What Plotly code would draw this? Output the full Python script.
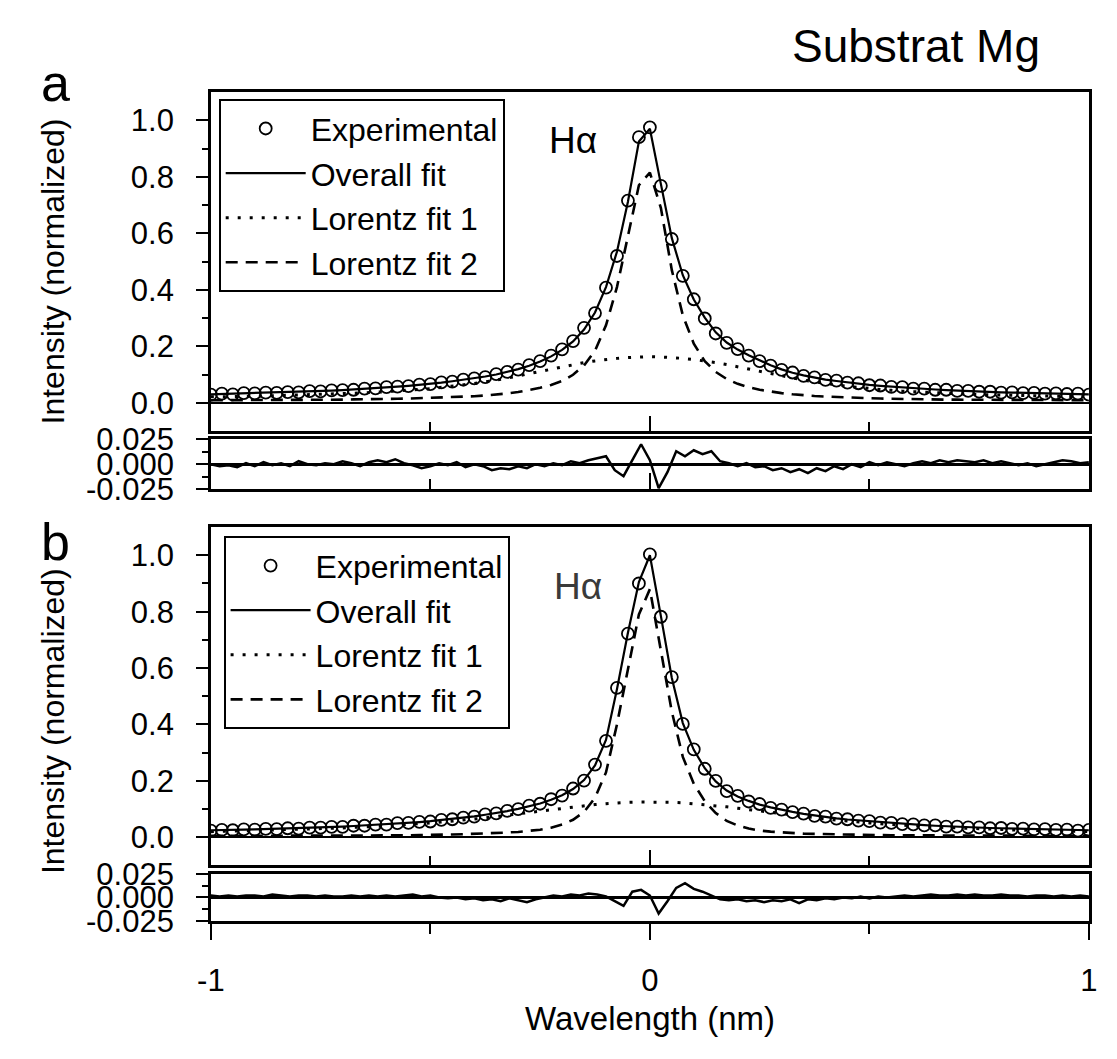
import numpy as np
import plotly.graph_objects as go

W, H = 1117, 1059
FONT = "Liberation Sans, Arial, Helvetica, sans-serif"

# ---------------- data ----------------
# wavelength grid of the spectra (step 0.025 nm) and of the residuals (step 0.02 nm)
x_spec = np.round(np.linspace(-1.0, 1.0, 81), 4)
x_res = np.round(np.linspace(-1.0, 1.0, 101), 4)

# Panel a
exp_a = [0.030, 0.033, 0.031, 0.035, 0.034, 0.037, 0.036, 0.039, 0.038, 0.042,
         0.041, 0.045, 0.046, 0.047, 0.051, 0.052, 0.056, 0.058, 0.060, 0.065,
         0.067, 0.073, 0.076, 0.083, 0.087, 0.092, 0.102, 0.110, 0.118, 0.134,
         0.148, 0.168, 0.190, 0.219, 0.266, 0.318, 0.408, 0.520, 0.716, 0.940,
         0.975,
         0.768, 0.580, 0.450, 0.367, 0.299, 0.246, 0.213, 0.191, 0.168, 0.148,
         0.132, 0.117, 0.108, 0.096, 0.091, 0.082, 0.079, 0.072, 0.070, 0.063,
         0.062, 0.057, 0.056, 0.051, 0.051, 0.047, 0.047, 0.043, 0.043, 0.040,
         0.040, 0.037, 0.038, 0.035, 0.036, 0.033, 0.034, 0.032, 0.033, 0.030]
fit_a = [0.031, 0.032, 0.033, 0.034, 0.035, 0.036, 0.037, 0.038, 0.039, 0.041,
         0.042, 0.044, 0.046, 0.048, 0.050, 0.052, 0.055, 0.058, 0.061, 0.064,
         0.068, 0.072, 0.077, 0.082, 0.087, 0.094, 0.101, 0.110, 0.120, 0.132,
         0.147, 0.165, 0.188, 0.218, 0.260, 0.320, 0.410, 0.535, 0.712, 0.925,
         0.970,
         0.775, 0.583, 0.452, 0.366, 0.302, 0.250, 0.214, 0.189, 0.169, 0.151,
         0.134, 0.119, 0.107, 0.098, 0.090, 0.083, 0.078, 0.073, 0.068, 0.064,
         0.061, 0.058, 0.055, 0.052, 0.050, 0.048, 0.046, 0.044, 0.042, 0.041,
         0.039, 0.038, 0.037, 0.036, 0.035, 0.034, 0.033, 0.033, 0.032, 0.031]
lor1_a = [0.022, 0.022, 0.023, 0.024, 0.024, 0.025, 0.026, 0.027, 0.028, 0.029,
          0.030, 0.031, 0.032, 0.034, 0.036, 0.038, 0.040, 0.042, 0.045, 0.048,
          0.051, 0.055, 0.059, 0.064, 0.069, 0.075, 0.081, 0.088, 0.096, 0.104,
          0.112, 0.120, 0.128, 0.136, 0.143, 0.149, 0.154, 0.158, 0.161, 0.163,
          0.164,
          0.163, 0.161, 0.158, 0.154, 0.149, 0.143, 0.136, 0.128, 0.120, 0.112,
          0.104, 0.096, 0.088, 0.081, 0.075, 0.069, 0.064, 0.059, 0.055, 0.051,
          0.048, 0.045, 0.042, 0.040, 0.038, 0.036, 0.034, 0.032, 0.031, 0.030,
          0.029, 0.028, 0.027, 0.026, 0.025, 0.024, 0.024, 0.023, 0.022, 0.022]
lor2_a = [0.010, 0.010, 0.010, 0.010, 0.010, 0.011, 0.011, 0.011, 0.011, 0.011,
          0.012, 0.012, 0.012, 0.013, 0.013, 0.014, 0.014, 0.015, 0.016, 0.017,
          0.018, 0.019, 0.020, 0.022, 0.024, 0.027, 0.030, 0.034, 0.039, 0.046,
          0.054, 0.064, 0.078, 0.100, 0.133, 0.185, 0.275, 0.410, 0.590, 0.770,
          0.815,
          0.690, 0.470, 0.310, 0.210, 0.148, 0.110, 0.085, 0.068, 0.056, 0.047,
          0.040, 0.035, 0.031, 0.027, 0.025, 0.023, 0.021, 0.019, 0.018, 0.017,
          0.016, 0.015, 0.015, 0.014, 0.013, 0.013, 0.012, 0.012, 0.012, 0.011,
          0.011, 0.011, 0.011, 0.011, 0.010, 0.010, 0.010, 0.010, 0.010, 0.010]
res_a = [0.000, -0.002, -0.001, -0.003, 0.001, -0.002, 0.002, -0.001, 0.001, -0.002,
         0.003, 0.000, -0.001, 0.001, 0.000, 0.003, 0.001, -0.002, 0.002, 0.004,
         0.002, 0.005, 0.001, -0.001, -0.004, -0.002, 0.001, -0.001, 0.002, -0.003,
         0.000, -0.002, -0.006, -0.004, -0.005, -0.002, -0.004, 0.000, -0.002, 0.001,
         -0.001, 0.003, 0.001, 0.004, 0.006, 0.008, -0.006, -0.012, 0.004, 0.020,
         0.004,
         -0.024, -0.008, 0.013, 0.008, 0.014, 0.010, 0.013, 0.003, 0.001, -0.002,
         0.001, -0.003, -0.002, -0.006, -0.004, -0.008, -0.005, -0.009, -0.004, -0.007,
         -0.002, -0.005, 0.000, -0.003, 0.002, -0.001, 0.002, 0.000, -0.002, 0.001,
         0.003, 0.001, 0.004, 0.002, 0.004, 0.003, 0.002, 0.004, 0.001, 0.003,
         0.001, -0.001, 0.001, -0.002, 0.000, 0.002, 0.004, 0.003, 0.001, 0.002]

# Panel b
exp_b = [0.024, 0.026, 0.025, 0.028, 0.027, 0.030, 0.029, 0.032, 0.031, 0.034,
         0.034, 0.037, 0.037, 0.041, 0.041, 0.045, 0.045, 0.050, 0.051, 0.055,
         0.056, 0.062, 0.064, 0.070, 0.073, 0.081, 0.085, 0.094, 0.100, 0.112,
         0.119, 0.135, 0.148, 0.173, 0.201, 0.258, 0.342, 0.530, 0.722, 0.900,
         1.003,
         0.782, 0.568, 0.402, 0.312, 0.243, 0.200, 0.164, 0.147, 0.127, 0.118,
         0.104, 0.098, 0.089, 0.084, 0.076, 0.073, 0.066, 0.064, 0.059, 0.057,
         0.052, 0.051, 0.047, 0.046, 0.042, 0.042, 0.038, 0.038, 0.035, 0.035,
         0.032, 0.033, 0.030, 0.031, 0.028, 0.029, 0.026, 0.027, 0.024, 0.026]
fit_b = [0.025, 0.025, 0.026, 0.027, 0.028, 0.029, 0.030, 0.031, 0.032, 0.033,
         0.035, 0.036, 0.038, 0.040, 0.042, 0.044, 0.046, 0.049, 0.052, 0.054,
         0.057, 0.061, 0.065, 0.069, 0.074, 0.080, 0.086, 0.093, 0.101, 0.110,
         0.120, 0.133, 0.149, 0.171, 0.203, 0.255, 0.345, 0.525, 0.725, 0.905,
         1.000,
         0.785, 0.565, 0.405, 0.310, 0.245, 0.198, 0.166, 0.145, 0.129, 0.116,
         0.106, 0.097, 0.090, 0.083, 0.077, 0.072, 0.067, 0.063, 0.060, 0.056,
         0.053, 0.050, 0.048, 0.045, 0.043, 0.041, 0.039, 0.037, 0.036, 0.034,
         0.033, 0.032, 0.031, 0.030, 0.029, 0.028, 0.027, 0.026, 0.025, 0.025]
lor1_b = [0.020, 0.021, 0.022, 0.023, 0.023, 0.024, 0.025, 0.026, 0.028, 0.029,
          0.030, 0.031, 0.033, 0.035, 0.036, 0.038, 0.040, 0.043, 0.045, 0.048,
          0.051, 0.054, 0.057, 0.061, 0.065, 0.069, 0.073, 0.078, 0.083, 0.088,
          0.093, 0.098, 0.103, 0.108, 0.112, 0.116, 0.119, 0.122, 0.124, 0.125,
          0.125,
          0.125, 0.124, 0.122, 0.119, 0.116, 0.112, 0.108, 0.103, 0.098, 0.093,
          0.088, 0.083, 0.078, 0.073, 0.069, 0.065, 0.061, 0.057, 0.054, 0.051,
          0.048, 0.045, 0.043, 0.040, 0.038, 0.036, 0.035, 0.033, 0.031, 0.030,
          0.029, 0.028, 0.026, 0.025, 0.024, 0.023, 0.023, 0.022, 0.021, 0.020]
lor2_b = [0.005, 0.005, 0.005, 0.005, 0.005, 0.005, 0.005, 0.005, 0.005, 0.006,
          0.006, 0.006, 0.006, 0.006, 0.006, 0.007, 0.007, 0.007, 0.007, 0.008,
          0.008, 0.009, 0.010, 0.011, 0.012, 0.013, 0.015, 0.017, 0.019, 0.022,
          0.027, 0.034, 0.045, 0.062, 0.090, 0.140, 0.230, 0.400, 0.600, 0.790,
          0.880,
          0.665, 0.445, 0.285, 0.190, 0.128, 0.086, 0.058, 0.042, 0.031, 0.024,
          0.020, 0.017, 0.015, 0.013, 0.012, 0.011, 0.010, 0.009, 0.009, 0.008,
          0.008, 0.007, 0.007, 0.007, 0.006, 0.006, 0.006, 0.006, 0.006, 0.006,
          0.005, 0.005, 0.005, 0.005, 0.005, 0.005, 0.005, 0.005, 0.005, 0.005]
res_b = [0.002, 0.001, 0.002, 0.001, 0.002, 0.002, 0.001, 0.003, 0.002, 0.001,
         0.002, 0.002, 0.001, 0.002, 0.001, 0.001, 0.002, 0.001, 0.002, 0.001,
         0.002, 0.001, 0.002, 0.003, 0.001, 0.002, 0.000, -0.001, 0.000, -0.002,
         -0.001, -0.003, -0.002, -0.004, -0.001, -0.003, -0.005, -0.002, 0.000, 0.002,
         0.001, 0.003, 0.002, 0.004, 0.003, 0.001, -0.004, -0.009, 0.006, 0.008,
         0.002,
         -0.017, -0.004, 0.010, 0.015, 0.009, 0.006, 0.002, -0.002, -0.003, -0.002,
         -0.004, -0.003, -0.005, -0.003, -0.004, -0.002, -0.006, -0.002, -0.003, -0.001,
         -0.002, 0.000, -0.001, 0.001, -0.001, 0.001, 0.000, 0.001, 0.002, 0.001,
         0.002, 0.003, 0.002, 0.002, 0.003, 0.002, 0.003, 0.002, 0.002, 0.003,
         0.002, 0.002, 0.001, 0.002, 0.002, 0.001, 0.002, 0.001, 0.002, 0.001]

x_tick_vals = [-1, 0, 1]
x_tick_text = ["-1", "0", "1"]
y_tick_vals = [0.0, 0.2, 0.4, 0.6, 0.8, 1.0]
y_tick_text = ["0.0", "0.2", "0.4", "0.6", "0.8", "1.0"]
r_tick_vals = [-0.025, 0.0, 0.025]
r_tick_text = ["-0.025", "0.000", "0.025"]
legend_names = ["Experimental", "Overall fit", "Lorentz fit 1", "Lorentz fit 2"]

# ---------------- figure ----------------
def fx(p):
    return p / W


def fy(p):
    return 1 - p / H


fig = go.Figure()


def add_panel(xm, ym, xr, yr, leg, exp, fit, l1, l2, res):
    fig.add_trace(go.Scatter(x=x_spec, y=l2, mode="lines", xaxis=xm, yaxis=ym,
                             name=legend_names[3], legend=leg, legendrank=4,
                             line=dict(color="black", width=2.6, dash="12px,8px")))
    fig.add_trace(go.Scatter(x=x_spec, y=l1, mode="lines", xaxis=xm, yaxis=ym,
                             name=legend_names[2], legend=leg, legendrank=3,
                             line=dict(color="black", width=3, dash="3px,9px")))
    fig.add_trace(go.Scatter(x=x_spec, y=fit, mode="lines", xaxis=xm, yaxis=ym,
                             name=legend_names[1], legend=leg, legendrank=2,
                             line=dict(color="black", width=2.2)))
    fig.add_trace(go.Scatter(x=x_spec, y=exp, mode="markers", xaxis=xm, yaxis=ym,
                             name=legend_names[0], legend=leg, legendrank=1,
                             marker=dict(symbol="circle-open", size=12, color="black",
                                         line=dict(width=1.8, color="black"))))
    fig.add_trace(go.Scatter(x=x_res, y=res, mode="lines", xaxis=xr, yaxis=yr,
                             showlegend=False, line=dict(color="black", width=2.5)))


add_panel("x", "y", "x2", "y2", "legend", exp_a, fit_a, lor1_a, lor2_a, res_a)
add_panel("x3", "y3", "x4", "y4", "legend2", exp_b, fit_b, lor1_b, lor2_b, res_b)

tickfont = dict(size=31, color="black", family=FONT)
XDOM = [fx(201), fx(1097.5)]
LW = 2.5


def xaxis(anchor, direction, labels):
    return dict(anchor=anchor, domain=XDOM, range=[-1, 1], showline=True, mirror=True,
                linecolor="black", linewidth=LW, showgrid=False, zeroline=False,
                tickmode="array", tickvals=x_tick_vals, ticktext=x_tick_text,
                ticks=direction, ticklen=16, tickwidth=2, tickcolor="black",
                minor=dict(tickmode="array", tickvals=[-0.5, 0.5], ticks=direction,
                           ticklen=10, tickwidth=2, tickcolor="black", showgrid=False),
                showticklabels=labels, tickfont=tickfont, ticklabelstandoff=14)


def yaxis_main(anchor, dom):
    return dict(anchor=anchor, domain=dom, range=[-0.1, 1.1], showline=True, mirror=True,
                linecolor="black", linewidth=LW, showgrid=False,
                zeroline=True, zerolinecolor="black", zerolinewidth=2,
                tickmode="array", tickvals=y_tick_vals, ticktext=y_tick_text,
                ticks="outside", ticklen=12, tickwidth=2, tickcolor="black",
                minor=dict(tickmode="array", tickvals=[0.1, 0.3, 0.5, 0.7, 0.9],
                           ticks="outside", ticklen=6, tickwidth=2, tickcolor="black",
                           showgrid=False),
                tickfont=tickfont, ticklabelstandoff=16)


def yaxis_res(anchor, dom):
    return dict(anchor=anchor, domain=dom, range=[-0.025, 0.025], showline=True,
                mirror=True, linecolor="black", linewidth=LW, showgrid=False,
                zeroline=True, zerolinecolor="black", zerolinewidth=2.5,
                tickmode="array", tickvals=r_tick_vals, ticktext=r_tick_text,
                ticks="outside", ticklen=12, tickwidth=2, tickcolor="black",
                minor=dict(tickmode="array", tickvals=[-0.0125, 0.0125],
                           ticks="outside", ticklen=6, tickwidth=2, tickcolor="black",
                           showgrid=False),
                tickfont=tickfont, ticklabelstandoff=16)


legend_style = dict(xanchor="left", yanchor="top", bgcolor="white", bordercolor="black",
                    borderwidth=2, font=dict(size=32, color="black", family=FONT),
                    itemwidth=80, tracegroupgap=0)

fig.update_layout(
    width=W, height=H, autosize=False,
    margin=dict(l=0, r=0, t=0, b=0),
    paper_bgcolor="white", plot_bgcolor="white",
    font=dict(family=FONT, color="black", size=31),
    xaxis=xaxis("y", "inside", False),
    yaxis=yaxis_main("x", [fy(428.5), fy(77.5)]),
    xaxis2=xaxis("y2", "inside", False),
    yaxis2=yaxis_res("x2", [fy(488.3), fy(436.7)]),
    xaxis3=xaxis("y3", "inside", False),
    yaxis3=yaxis_main("x3", [fy(877.5), fy(527.5)]),
    xaxis4=xaxis("y4", "outside", True),
    yaxis4=yaxis_res("x4", [fy(935), fy(886)]),
    legend=dict(x=fx(209), y=fy(85), **legend_style),
    legend2=dict(x=fx(214), y=fy(537), **legend_style),
    showlegend=True,
)

ann_font = dict(family=FONT, color="black")
annotations = [
    dict(text="Substrat Mg", x=fx(1050), y=fy(29.5), xanchor="right", yanchor="middle",
         font=dict(size=46, **ann_font)),
    dict(text="a", x=fx(42), y=fy(68), xanchor="center", yanchor="middle",
         font=dict(size=52, **ann_font)),
    dict(text="b", x=fx(42), y=fy(543), xanchor="center", yanchor="middle",
         font=dict(size=52, **ann_font)),
    dict(text="Intensity (normalized)", textangle=-90, x=fx(40), y=fy(263),
         xanchor="center", yanchor="middle", font=dict(size=32, **ann_font)),
    dict(text="Intensity (normalized)", textangle=-90, x=fx(40), y=fy(728),
         xanchor="center", yanchor="middle", font=dict(size=32, **ann_font)),
    dict(text="Wavelength (nm)", x=fx(649), y=fy(1036), xanchor="center",
         yanchor="middle", font=dict(size=33, **ann_font)),
]
for a in annotations:
    a.update(xref="paper", yref="paper", showarrow=False)
annotations += [
    dict(text="Hα", x=-0.175, y=0.93, xref="x", yref="y", showarrow=False,
         xanchor="center", yanchor="middle", font=dict(size=37, **ann_font)),
    dict(text="Hα", x=-0.163, y=0.89, xref="x3", yref="y3", showarrow=False,
         xanchor="center", yanchor="middle",
         font=dict(size=37, family=FONT, color="#3a3a3a")),
]
fig.update_layout(annotations=annotations)

fig.write_html("out.html")
